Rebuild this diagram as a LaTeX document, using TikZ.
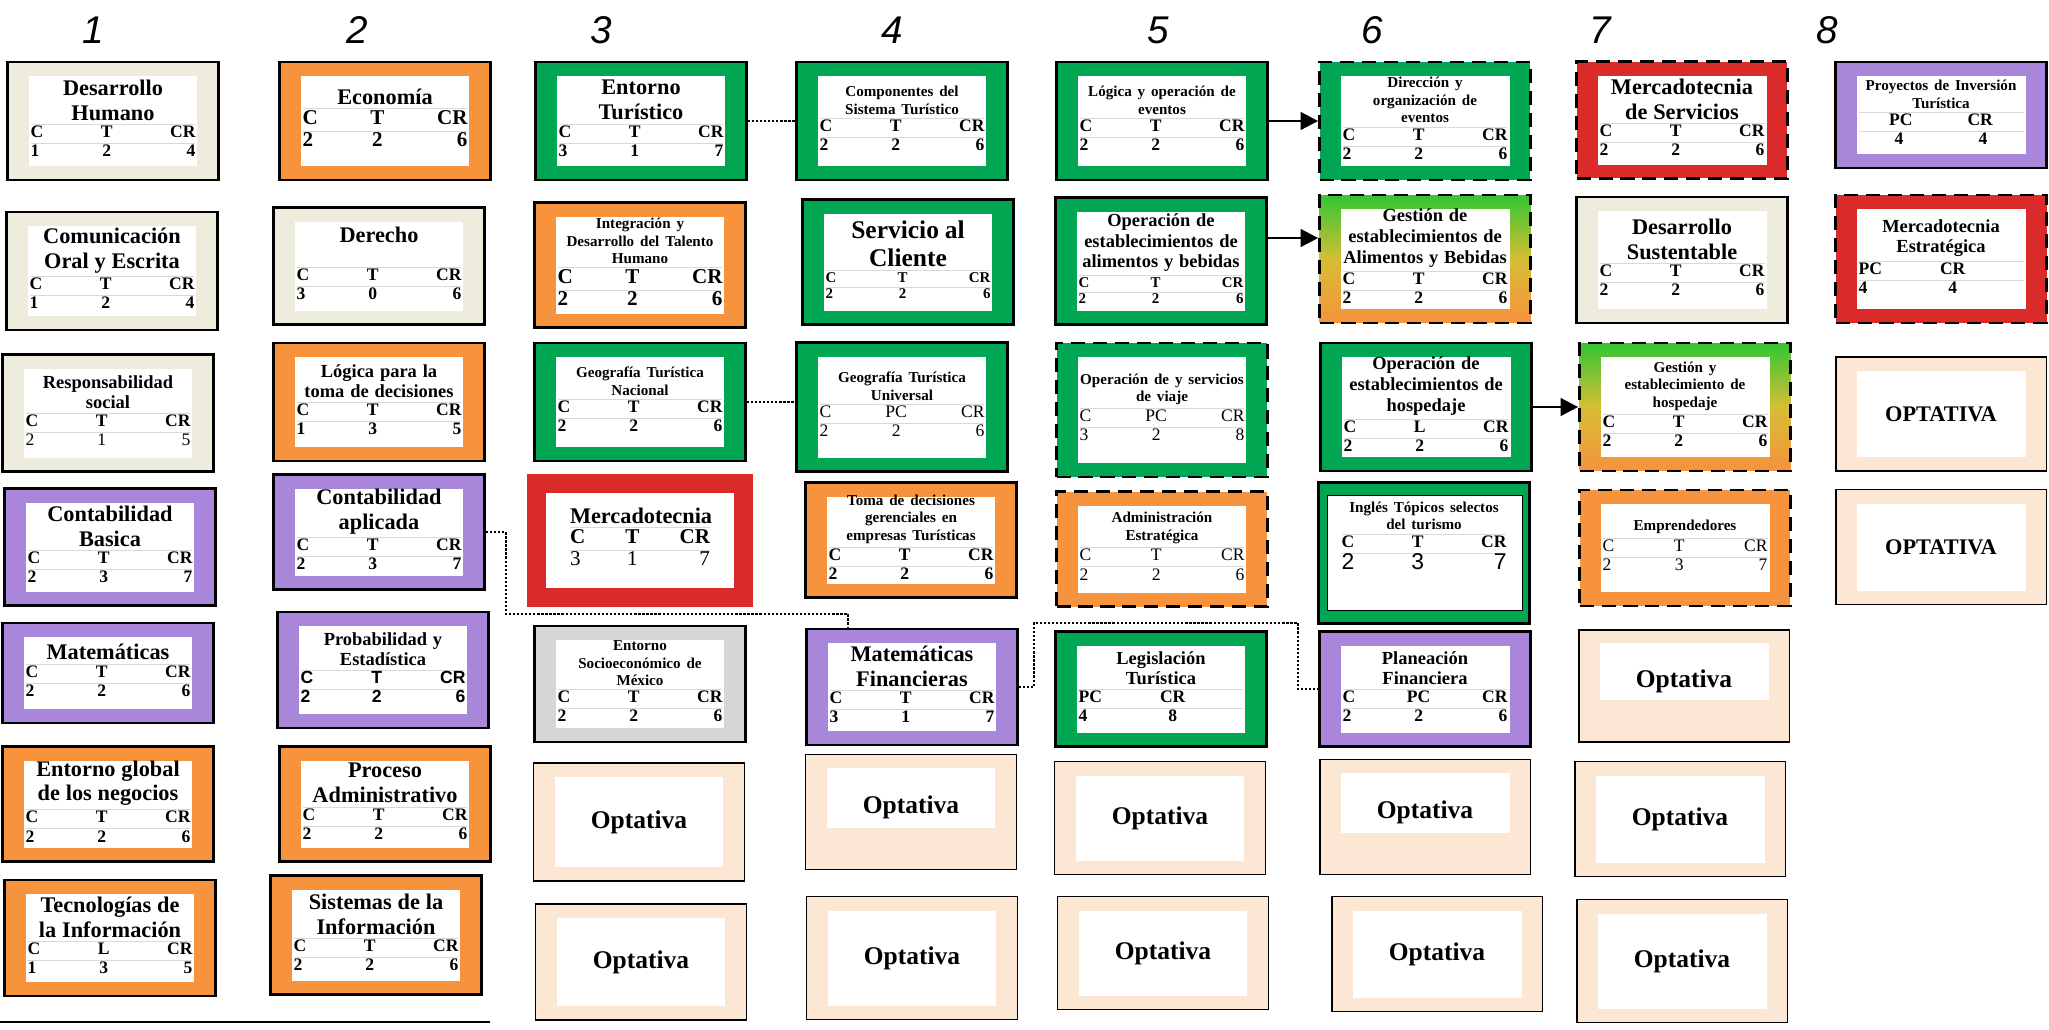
\documentclass[tikz,border=0pt]{standalone}
\usepackage{fontspec}
\setmainfont{Liberation Serif}
\setsansfont{Liberation Sans}
\usepackage{colortbl}
\usetikzlibrary{arrows.meta}

\definecolor{verde}{RGB}{0,166,81}
\definecolor{verdeclaro}{RGB}{50,198,50}
\definecolor{ocre}{RGB}{214,190,52}
\definecolor{naranja}{RGB}{247,146,61}
\definecolor{lila}{RGB}{168,134,218}
\definecolor{rojo}{RGB}{218,42,42}
\definecolor{crema}{RGB}{238,236,220}
\definecolor{durazno}{RGB}{252,230,212}
\definecolor{gris}{RGB}{214,214,214}

\arrayrulecolor{black!15}
\renewcommand{\arraystretch}{0.95}
\setlength{\tabcolsep}{0pt}

\newcommand{\tamA}{\fontsize{12.7}{14.2}\selectfont}
\newcommand{\tamB}{\fontsize{10.5}{11.8}\selectfont}
\newcommand{\tamC}{\fontsize{8.6}{10}\selectfont}
\newcommand{\tamD}{\fontsize{14.5}{16}\selectfont}
\newcommand{\filA}{\fontsize{12}{13}\selectfont}
\newcommand{\filB}{\fontsize{10}{11}\selectfont}
\newcommand{\filC}{\fontsize{8.5}{9.5}\selectfont}
\newcommand{\sv}[1]{{\sffamily\mdseries\fontsize{13}{13}\selectfont #1}}
% titulo, filas C T CR y creditos
\newcommand{\ficha}[9]{{#1#2\par}\vspace{1pt}{#3\begin{tabular*}{\hsize}{@{\extracolsep{\fill}}lcr}\hline #4&#5&#6\\\hline #7&#8&#9\\\end{tabular*}\par}}

\tikzset{
  marco/.style 2 args={path picture={\fill[white] ([shift={(#1,#2)}]path picture bounding box.south west) rectangle ([shift={(-#1,-#2)}]path picture bounding box.north east);}},
  mitad/.style={path picture={\fill[white] ([shift={(0.42cm,0.84cm)}]path picture bounding box.south west) rectangle ([shift={(-0.42cm,-0.26cm)}]path picture bounding box.north east);}},
  caja/.style={draw=black, line width=1.6pt, minimum width=4.22cm, minimum height=2.34cm, text width=3.3cm, align=center, inner sep=0pt, font=\bfseries, marco={0.42cm}{0.28cm}},
  cajacrema/.style={caja, fill=crema, line width=1.3pt},
  cajaverde/.style={caja, fill=verde},
  cajanaranja/.style={caja, fill=naranja},
  cajalila/.style={caja, fill=lila},
  cajaroja/.style={caja, fill=rojo},
  cajagris/.style={caja, fill=gris},
  cajaopt/.style={caja, fill=durazno, line width=1.1pt},
  cajamixta/.style={caja, top color=verdeclaro, bottom color=naranja, middle color=ocre},
  cajaingles/.style={caja, fill=verde, path picture={\filldraw[fill=white, draw=black, line width=0.8pt] ([shift={(0.18cm,0.26cm)}]path picture bounding box.south west) rectangle ([shift={(-0.14cm,-0.26cm)}]path picture bounding box.north east);}},
  rayas/.style={dash pattern=on 8pt off 4.5pt},
  punteado/.style={line width=1.3pt, dash pattern=on 1.3pt off 1pt},
  flecha/.style={-{Triangle[length=10pt,width=10pt]}, line width=1.6pt},
  numero/.style={font=\sffamily\itshape\fontsize{22}{22}\selectfont}
}

\begin{document}
\begin{tikzpicture}[x=0.02cm, y=-0.02cm]
\useasboundingbox (0,0) rectangle (2049,1029);

\foreach \i/\x in {1/93,2/357,3/601,4/892,5/1158,6/1372,7/1600,8/1827}
  \node[numero] (n\i) at (\x,30) {\i};

% semestre 1
\node[cajacrema, minimum height=2.36cm] (c1a) at (113,121) {\ficha{\tamA}{Desarrollo\\Humano}{\filB}{C}{T}{CR}{1}{2}{4}};
\node[cajacrema, minimum height=2.36cm] (c1b) at (112,271) {\ficha{\tamA}{Comunicación\\Oral y Escrita}{\filB}{C}{T}{CR}{1}{2}{4}};
\node[cajacrema] (c1c) at (108,413) {\ficha{\tamB}{Responsabilidad\\social}{\filB}{C}{T}{CR}{\textmd{2}}{\textmd{1}}{\textmd{5}}};
\node[cajalila] (c1d) at (110,547) {\ficha{\tamA}{Contabilidad\\Basica}{\filB}{C}{T}{CR}{2}{3}{7}};
\node[cajalila, minimum height=2cm] (c1e) at (108,673) {\ficha{\tamA}{Matemáticas}{\filB}{C}{T}{CR}{2}{2}{6}};
\node[cajanaranja, minimum height=2.3cm] (c1f) at (108,804) {\ficha{\tamA}{Entorno global\\de los negocios}{\filB}{C}{T}{CR}{2}{2}{6}};
\node[cajanaranja, minimum height=2.32cm] (c1g) at (110,938) {\ficha{\tamA}{Tecnologías de\\la Información}{\filB}{C}{L}{CR}{1}{3}{5}};

% semestre 2
\node[cajanaranja, minimum height=2.36cm] (c2a) at (385,121) {\ficha{\tamA}{Economía}{\filA}{C}{T}{CR}{2}{2}{6}};
\node[cajacrema] (c2b) at (379,266) {\ficha{\tamA}{Derecho\par\vspace{12pt}}{\filB}{C}{T}{CR}{3}{0}{6}};
\node[cajanaranja, minimum height=2.36cm] (c2c) at (379,402) {\ficha{\tamB}{Lógica para la\\toma de decisiones}{\filB}{C}{T}{CR}{1}{3}{5}};
\node[cajalila, minimum height=2.3cm] (c2d) at (379,532) {\ficha{\tamA}{Contabilidad\\aplicada}{\filB}{C}{T}{CR}{2}{3}{7}};
\node[cajalila, minimum height=2.32cm] (c2e) at (383,670) {\ficha{\tamB}{Probabilidad y\\Estadística}{\filB\sffamily}{C}{T}{CR}{2}{2}{6}};
\node[cajanaranja, minimum height=2.3cm] (c2f) at (385,804) {\ficha{\tamA}{Proceso\\Administrativo}{\filB}{C}{T}{CR}{2}{2}{6}};
\node[cajanaranja, minimum height=2.38cm] (c2g) at (376,935) {\ficha{\tamA}{Sistemas de la\\Información}{\filB}{C}{T}{CR}{2}{2}{6}};
\draw[line width=1.6pt] (0,1022) -- (490,1022);

% semestre 3
\node[cajaverde, minimum height=2.36cm] (c3a) at (641,121) {\ficha{\tamA}{Entorno\\Turístico}{\filB}{C}{T}{CR}{3}{1}{7}};
\node[cajanaranja, minimum height=2.5cm] (c3b) at (640,265) {\ficha{\tamC}{Integración y\\Desarrollo del Talento\\Humano}{\filA}{C}{T}{CR}{2}{2}{6}};
\node[cajaverde, minimum height=2.36cm] (c3c) at (640,402) {\ficha{\tamC}{Geografía Turística\\Nacional}{\filB}{C}{T}{CR}{2}{2}{6}};
\node[cajaroja, draw=none, minimum width=4.54cm, minimum height=2.66cm, text width=2.8cm, marco={0.38cm}{0.38cm}] (c3d) at (640,540) {\ficha{\tamA}{Mercadotecnia}{\filA}{C}{T}{CR}{\textmd{3}}{\textmd{1}}{\textmd{7}}};
\node[cajagris, minimum height=2.32cm] (c3e) at (640,684) {\ficha{\tamC}{Entorno\\Socioeconómico de\\México}{\filB}{C}{T}{CR}{2}{2}{6}};
\node[cajaopt, minimum height=2.36cm] (c3f) at (639,822) {\tamD Optativa};
\node[cajaopt, minimum height=2.32cm] (c3g) at (641,962) {\tamD Optativa};

% semestre 4
\node[cajaverde, minimum height=2.36cm] (c4a) at (902,121) {\ficha{\tamC}{Componentes del\\Sistema Turístico}{\filB}{C}{T}{CR}{2}{2}{6}};
\node[cajaverde, minimum height=2.5cm] (c4b) at (908,262) {\ficha{\tamD}{Servicio al\\Cliente}{\filC}{C}{T}{CR}{2}{2}{6}};
\node[cajaverde, minimum height=2.58cm] (c4c) at (902,407) {\ficha{\tamC}{Geografía Turística\\Universal}{\filB\mdseries}{C}{PC}{CR}{2}{2}{6}};
\node[cajanaranja, minimum height=2.3cm] (c4d) at (911,540) {\ficha{\tamC}{Toma de decisiones\\gerenciales en\\empresas Turísticas}{\filB}{C}{T}{CR}{2}{2}{6}};
\node[cajalila, minimum height=2.32cm] (c4e) at (912,687) {\ficha{\tamA}{Matemáticas\\Financieras}{\filB}{C}{T}{CR}{3}{1}{7}};
\node[cajaopt, mitad, minimum height=2.3cm] (c4f) at (911,812) {\tamD\raisebox{0.28cm}{Optativa}};
\node[cajaopt, minimum height=2.46cm] (c4g) at (912,958) {\tamD Optativa};

% semestre 5
\node[cajaverde, minimum height=2.36cm] (c5a) at (1162,121) {\ficha{\tamC}{Lógica y operación de\\eventos}{\filB}{C}{T}{CR}{2}{2}{6}};
\node[cajaverde, minimum height=2.54cm] (c5b) at (1161,261) {\ficha{\tamB}{Operación de\\establecimientos de\\alimentos y bebidas}{\filC}{C}{T}{CR}{2}{2}{6}};
\node[cajaverde, rayas, minimum height=2.68cm] (c5c) at (1162,410) {\ficha{\tamC}{Operación de y servicios\\de viaje}{\filB\mdseries}{C}{PC}{CR}{3}{2}{8}};
\node[cajanaranja, rayas, minimum height=2.3cm] (c5d) at (1162,549) {\ficha{\tamC}{Administración\\Estratégica}{\filB\mdseries}{C}{T}{CR}{2}{2}{6}};
\node[cajaverde, minimum height=2.3cm] (c5e) at (1161,689) {\ficha{\tamB}{Legislación\\Turística}{\filB}{PC}{CR}{}{4}{8}{}};
\node[cajaopt, minimum height=2.26cm] (c5f) at (1160,818) {\tamD Optativa};
\node[cajaopt, minimum height=2.26cm] (c5g) at (1163,953) {\tamD Optativa};

% semestre 6
\node[cajaverde, rayas, minimum height=2.36cm] (c6a) at (1425,121) {\ficha{\tamC}{Dirección y\\organización de\\eventos}{\filB}{C}{T}{CR}{2}{2}{6}};
\node[cajamixta, rayas, minimum height=2.56cm] (c6b) at (1425,259) {\ficha{\tamB}{Gestión de\\establecimientos de\\Alimentos y Bebidas}{\filB}{C}{T}{CR}{2}{2}{6}};
\node[cajaverde, minimum height=2.56cm] (c6c) at (1426,407) {\ficha{\tamB}{Operación de\\establecimientos de\\hospedaje}{\filB}{C}{L}{CR}{2}{2}{6}};
\node[cajaingles, minimum height=2.82cm] (c6d) at (1424,553) {\ficha{\tamC}{Inglés Tópicos selectos\\del turismo}{\filB}{C}{T}{CR}{\sv{2}}{\sv{3}}{\sv{7}}\vspace{14pt}\mbox{}};
\node[cajalila, minimum height=2.3cm] (c6e) at (1425,689) {\ficha{\tamB}{Planeación\\Financiera}{\filB}{C}{PC}{CR}{2}{2}{6}};
\node[cajaopt, mitad, minimum height=2.3cm] (c6f) at (1425,817) {\tamD\raisebox{0.28cm}{Optativa}};
\node[cajaopt, minimum height=2.3cm] (c6g) at (1437,954) {\tamD Optativa};

% semestre 7
\node[cajaroja, rayas, minimum height=2.34cm] (c7a) at (1682,120) {\ficha{\tamA}{Mercadotecnia\\de Servicios}{\filB}{C}{T}{CR}{2}{2}{6}};
\node[cajacrema, minimum height=2.52cm] (c7b) at (1682,260) {\ficha{\tamA}{Desarrollo\\Sustentable}{\filB}{C}{T}{CR}{2}{2}{6}};
\node[cajamixta, rayas, minimum height=2.56cm] (c7c) at (1685,407) {\ficha{\tamC}{Gestión y\\establecimiento de\\hospedaje}{\filB}{C}{T}{CR}{2}{2}{6}};
\node[cajanaranja, rayas, minimum height=2.32cm] (c7d) at (1685,548) {\ficha{\tamC}{Emprendedores}{\filB\mdseries}{C}{T}{CR}{2}{3}{7}};
\node[cajaopt, mitad, minimum height=2.24cm] (c7e) at (1684,686) {\tamD\raisebox{0.28cm}{Optativa}};
\node[cajaopt, minimum height=2.3cm] (c7f) at (1680,819) {\tamD Optativa};
\node[cajaopt, minimum height=2.46cm] (c7g) at (1682,961) {\tamD Optativa};

% semestre 8
\node[cajalila, minimum height=2.12cm] (c8a) at (1941,115) {\ficha{\tamC}{Proyectos de Inversión\\Turística}{\filB}{}{PC\hspace{1.1cm}CR}{}{}{4\hspace{1.5cm}4}{}};
\node[cajaroja, rayas, minimum height=2.56cm] (c8b) at (1941,259) {\ficha{\tamB}{Mercadotecnia\\Estratégica}{\filB}{PC}{CR}{}{4}{4}{}};
\node[cajaopt, minimum height=2.28cm] (c8c) at (1941,414) {\tamA OPTATIVA};
\node[cajaopt, minimum height=2.3cm] (c8d) at (1941,547) {\tamA OPTATIVA};

% seriaciones
\draw[punteado] (c3a) -- (c4a);
\draw[punteado] (c3c.east) -- (c3c.east -| c4c.west);
\coordinate (p1) at (848,614);
\draw[punteado] (c2d.east) -- ++(20,0) |- (p1) -- (p1 |- c4e.north);
\coordinate (p2) at (1298,623);
\draw[punteado] (c4e.east) -- ++(15,0) |- (p2) |- (c6e.west);
\draw[flecha] (c5a) -- (c6a);
\draw[flecha] ([yshift=0.46cm]c5b.east) -- ([yshift=0.46cm]c5b.east -| c6b.west);
\draw[flecha] (c6c) -- (c7c);
\end{tikzpicture}
\end{document}
